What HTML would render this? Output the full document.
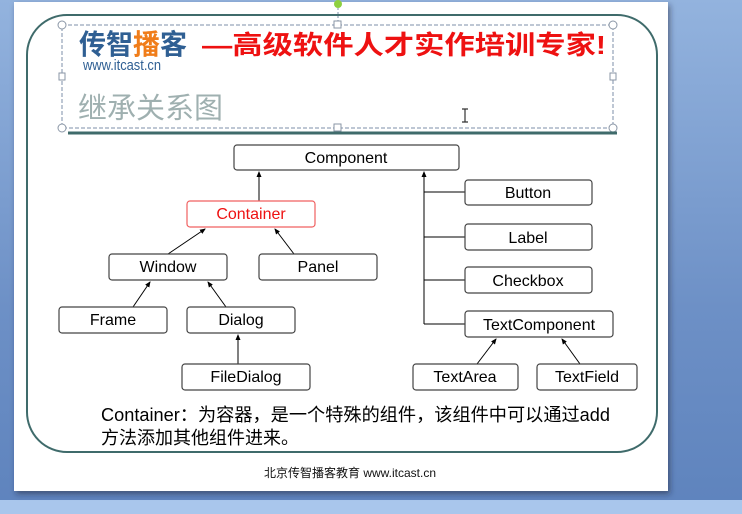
<!DOCTYPE html>
<html><head><meta charset="utf-8"><style>
html,body{margin:0;padding:0;width:742px;height:514px;overflow:hidden}
body{background:linear-gradient(#93b3de,#6d90c6 60%,#5e83bd)}
text{font-family:"Liberation Sans","Noto Sans CJK SC",sans-serif}
</style></head><body>
<svg width="742" height="514" viewBox="0 0 742 514" xmlns="http://www.w3.org/2000/svg" style="position:absolute;left:0;top:0">
<defs>
<marker id="a" markerWidth="6" markerHeight="6" refX="5" refY="3" orient="auto"><path d="M0,0.5 L6,3 L0,5.5 z" fill="#000"/></marker>
<filter id="sh"><feDropShadow dx="2" dy="3" stdDeviation="3" flood-color="#223" flood-opacity="0.5"/></filter>
</defs>
<rect x="0" y="500" width="742" height="14" fill="#a9c6ec"/>
<rect x="14" y="2" width="654" height="489" fill="#fff" filter="url(#sh)"/>
<rect x="27" y="15" width="630" height="437" rx="40" fill="none" stroke="#3f6b6b" stroke-width="2"/>
<rect x="62" y="25" width="551" height="103" fill="none" stroke="#7d8fa8" stroke-dasharray="4,2"/>
<line x1="338" y1="4" x2="338" y2="25" stroke="#7d8fa8" stroke-dasharray="2,2"/>
<circle cx="338" cy="4" r="4" fill="#8ed040"/>
<g fill="#fff" stroke="#8a96a6">
<circle cx="62" cy="25" r="4"/><circle cx="613" cy="25" r="4"/><circle cx="62" cy="128" r="4"/><circle cx="613" cy="128" r="4"/>
<rect x="334" y="21" width="7" height="7"/><rect x="334" y="124" width="7" height="7"/><rect x="59" y="73" width="6" height="7"/><rect x="610" y="73" width="6" height="7"/>
</g>
<line x1="68" y1="133" x2="617" y2="133" stroke="#3f6b6b" stroke-width="3"/>
<text x="79" y="54" font-size="28" font-weight="bold" fill="#2f5f93" textLength="108" lengthAdjust="spacingAndGlyphs">传智<tspan fill="#f07d1a">播</tspan>客</text>
<text x="83" y="70" font-size="15" fill="#2f5f93" textLength="78" lengthAdjust="spacingAndGlyphs">www.itcast.cn</text>
<text x="202" y="54" font-size="26" font-weight="bold" fill="#ee1111" textLength="404" lengthAdjust="spacingAndGlyphs">—高级软件人才实作培训专家!</text>
<text x="78" y="118" font-size="29" fill="#9fb0b0">继承关系图</text>
<path d="M462,109 h6 M465,109 v13 M462,122 h6" stroke="#333" stroke-width="1.2" fill="none"/>
<g stroke="#000" stroke-width="1" fill="none" marker-end="url(#a)">
<line x1="259" y1="201" x2="259" y2="172"/>
<line x1="168" y1="254" x2="205" y2="229"/>
<line x1="294" y1="254" x2="275" y2="229"/>
<line x1="133" y1="307" x2="150" y2="282"/>
<line x1="226" y1="307" x2="208" y2="282"/>
<line x1="238" y1="364" x2="238" y2="335"/>
<line x1="424" y1="324" x2="424" y2="172"/>
<line x1="477" y1="364" x2="496" y2="339"/>
<line x1="580" y1="364" x2="562" y2="339"/>
</g>
<g stroke="#000" stroke-width="1"><line x1="424" y1="192" x2="465" y2="192"/><line x1="424" y1="237" x2="465" y2="237"/><line x1="424" y1="280" x2="465" y2="280"/><line x1="424" y1="324" x2="465" y2="324"/></g>
<g fill="#fff" stroke="#444" stroke-width="1.2">
<rect x="234" y="145" width="225" height="25" rx="3"/>
<rect x="109" y="254" width="118" height="26" rx="3"/>
<rect x="259" y="254" width="118" height="26" rx="3"/>
<rect x="59" y="307" width="108" height="26" rx="3"/>
<rect x="187" y="307" width="108" height="26" rx="3"/>
<rect x="182" y="364" width="128" height="26" rx="3"/>
<rect x="465" y="180" width="127" height="25" rx="3"/>
<rect x="465" y="224" width="127" height="26" rx="3"/>
<rect x="465" y="267" width="127" height="26" rx="3"/>
<rect x="465" y="311" width="148" height="26" rx="3"/>
<rect x="413" y="364" width="105" height="26" rx="3"/>
<rect x="537" y="364" width="100" height="26" rx="3"/>
</g>
<rect x="187" y="201" width="128" height="26" rx="3" fill="#fff" stroke="#f06060" stroke-width="1.2"/>
<g font-size="16" fill="#000" text-anchor="middle">
<text x="346" y="163">Component</text>
<text x="251" y="219" fill="#ee1111">Container</text>
<text x="168" y="272">Window</text>
<text x="318" y="272">Panel</text>
<text x="113" y="325">Frame</text>
<text x="241" y="325">Dialog</text>
<text x="246" y="382">FileDialog</text>
<text x="528" y="198">Button</text>
<text x="528" y="243">Label</text>
<text x="528" y="286">Checkbox</text>
<text x="539" y="330">TextComponent</text>
<text x="465" y="382">TextArea</text>
<text x="587" y="382">TextField</text>
</g>
<text x="101" y="421" font-size="18" fill="#000" textLength="509" lengthAdjust="spacingAndGlyphs">Container：为容器，是一个特殊的组件，该组件中可以通过add</text>
<text x="101" y="444" font-size="18" fill="#000">方法添加其他组件进来。</text>
<text x="264" y="477" font-size="12" fill="#111">北京传智播客教育 www.itcast.cn</text>
</svg>
</body></html>
